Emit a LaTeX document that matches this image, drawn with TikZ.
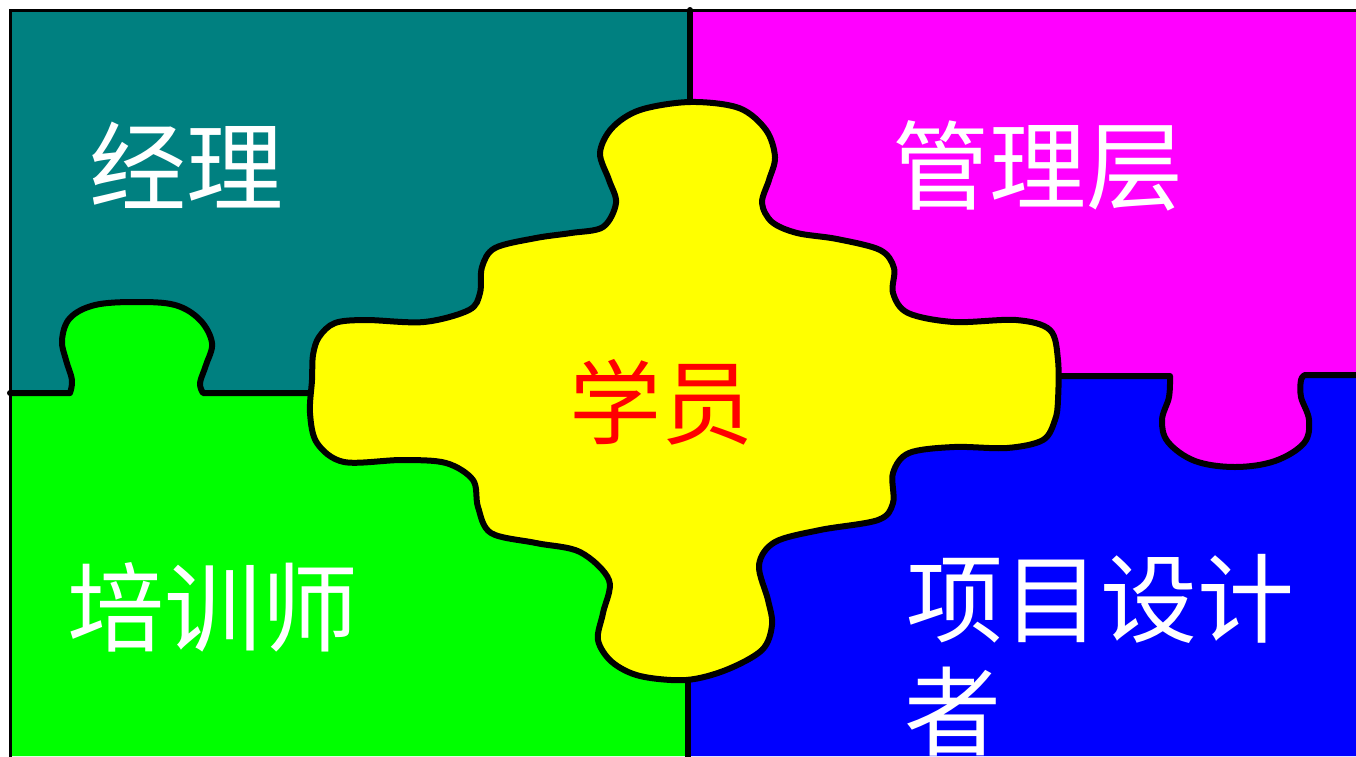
\documentclass[tikz,border=0pt]{standalone}
\usepackage{fontspec}
\newfontfamily\cjk{Noto Sans CJK SC}
\definecolor{cteal}{RGB}{0,128,128}
\definecolor{cmag}{RGB}{255,0,255}
\definecolor{cgreen}{RGB}{0,255,0}
\definecolor{cblue}{RGB}{0,0,255}
\definecolor{cyel}{RGB}{255,255,0}
\definecolor{cred}{RGB}{255,0,0}
\tikzset{
  edge/.style={draw=black,line width=6pt,line join=round,line cap=round},
  frame/.style={draw=black,line width=3pt},
  lbl/.style={text=white,inner sep=0pt,font=\cjk\fontsize{97}{97}\selectfont},
  lblred/.style={text=cred,inner sep=0pt,font=\cjk\fontsize{92}{92}\selectfont},
}
\begin{document}
\begin{tikzpicture}[x=1pt,y=-1pt]
\useasboundingbox (0,0) rectangle (1356,756);
\fill[white] (0,0) rectangle (1356,756);
% base rectangles
\fill[cteal] (10,10) rectangle (690,393);
\fill[cmag] (690,10) rectangle (1356,480);
% green region with knob
\fill[cgreen] (10,393) -- (70,393) -- plot[smooth,tension=0.6] coordinates {(70,393) (72,380) (66,360) (62,340) (70,318) (95,305) (136,302) (175,305) (200,320) (212,343) (206,365) (200,383) (203,393)} -- (690,393) -- (690,756) -- (10,756) -- cycle;
% blue region with notch
\fill[cblue] (690,376) -- (1170,376) -- plot[smooth,tension=0.6] coordinates {(1170,376) (1169,397) (1162,420) (1168,442) (1195,461) (1235,467) (1275,461) (1304,443) (1309,420) (1301,397) (1301,380) (1305,375)} -- (1356,375) -- (1356,756) -- (690,756) -- cycle;
% boundaries
\draw[edge] (10,393) -- (70,393) -- plot[smooth,tension=0.6] coordinates {(70,393) (72,380) (66,360) (62,340) (70,318) (95,305) (136,302) (175,305) (200,320) (212,343) (206,365) (200,383) (203,393)} -- (330,393);
\draw[edge] (1040,376) -- (1170,376) -- plot[smooth,tension=0.6] coordinates {(1170,376) (1169,397) (1162,420) (1168,442) (1195,461) (1235,467) (1275,461) (1304,443) (1309,420) (1301,397) (1301,380) (1305,375)} -- (1358,375);
\draw[edge] (690,10) -- (690,120);
\draw[edge] (688,660) -- (688,760);
\draw[frame] (10,758) -- (10,10) -- (1358,10);
% yellow piece
\filldraw[fill=cyel,edge] plot[smooth cycle,tension=0.55] coordinates {
(690,102) (739,108) (766,130) (775,157) (769,180) (762,203) (772,222) (797,233) (837,239) (880,250) (894,268) (893,293) (908,313) (954,322) (1016,320) (1050,330) (1058,360) (1058,400) (1055,420) (1043,440) (1007,448) (954,447) (909,453) (893,473) (893,503) (878,520) (820,530) (775,542) (759,565) (768,600) (772,625) (762,650) (726,670) (686,680) (640,676) (612,662) (598,640) (603,613) (609,580) (580,552) (536,543) (491,533) (478,507) (473,480) (446,463) (402,460) (344,462) (317,443) (310,413) (312,380) (313,355) (319,337) (335,323) (366,320) (424,322) (469,310) (480,293) (482,267) (495,248) (536,238) (571,233) (603,227) (616,203) (609,180) (600,153) (612,128) (640,110)};
% labels
\node[lbl] (jingli) at (186,165) {经理};
\node[lbl] (guanli) at (1038,166) {管理层};
\node[lblred] (xueyuan) at (661,402) {学员};
\node[lbl] (peixun) at (213,607) {培训师};
\node[lbl] (xiangmu) at (1100,599) {项目设计};
\node[lbl] (zhe) at (953,712) {者};
\end{tikzpicture}
\end{document}
